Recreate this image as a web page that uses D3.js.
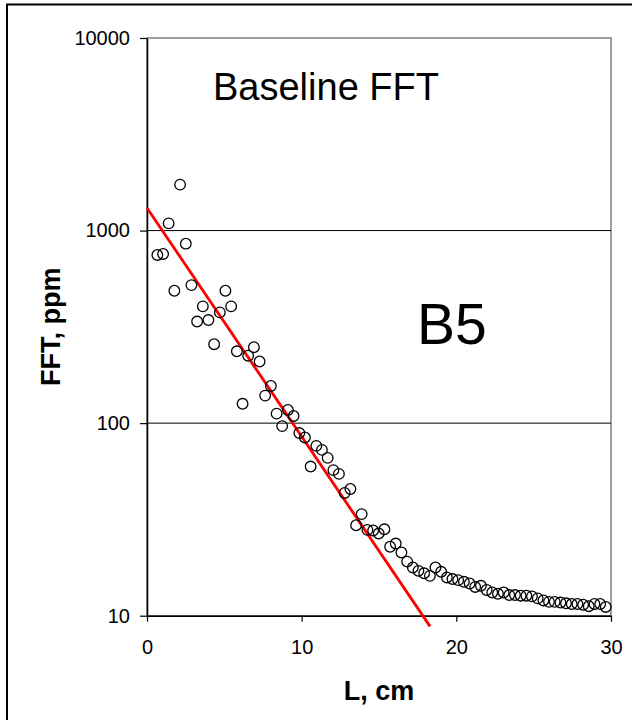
<!DOCTYPE html>
<html>
<head>
<meta charset="utf-8">
<script src="https://cdn.jsdelivr.net/npm/d3@7"></script>
<style>
  body { margin: 0; background: #fff; }
  svg { display: block; font-family: "Liberation Sans", Arial, sans-serif; }
</style>
</head>
<body>
<svg id="chart"></svg>
<script>
// measured data, L in cm, FFT in ppm
const L = [0.67, 1.04, 1.40, 1.77, 2.14, 2.51, 2.87, 3.24, 3.61, 3.97,
  4.34, 4.71, 5.07, 5.44, 5.81, 6.18, 6.54, 6.91, 7.28, 7.64,
  8.01, 8.38, 8.74, 9.11, 9.48, 9.85, 10.21, 10.58, 10.95, 11.31,
  11.68, 12.05, 12.41, 12.78, 13.15, 13.52, 13.88, 14.25, 14.62, 14.98,
  15.35, 15.72, 16.08, 16.45, 16.82, 17.19, 17.55, 17.92, 18.29, 18.65,
  19.02, 19.39, 19.75, 20.12, 20.49, 20.86, 21.22, 21.59, 21.96, 22.32,
  22.69, 23.06, 23.42, 23.79, 24.16, 24.53, 24.89, 25.26, 25.63, 25.99,
  26.36, 26.73, 27.09, 27.46, 27.83, 28.20, 28.56, 28.93, 29.30, 29.66];
const fft = [747, 756, 1090, 487, 1732, 855, 521, 337, 404, 343,
  257, 376, 487, 404, 236, 126, 224, 248, 209, 139,
  156, 112, 96.5, 117, 109, 88.8, 84.2, 59.5, 76.2, 72.6,
  66.0, 57.0, 54.5, 43.4, 45.5, 29.5, 33.7, 27.9, 27.7, 26.7,
  28.1, 22.8, 23.7, 21.3, 19.1, 17.8, 17.1, 16.6, 16.1, 17.8,
  16.9, 15.8, 15.5, 15.3, 15.0, 14.7, 14.1, 14.3, 13.6, 13.2,
  13.0, 13.2, 12.8, 12.8, 12.7, 12.7, 12.6, 12.3, 12.0, 11.8,
  11.8, 11.7, 11.6, 11.5, 11.5, 11.4, 11.2, 11.5, 11.5, 11.1];

// exponential trend line end points
const fitL = [0, 18.3];
const fitV = [1311, 8.8];

const xTicks = [0, 10, 20, 30];
const yTicks = [10, 100, 1000, 10000];

const width = 632;
const height = 720;

const svg = d3.select("#chart")
    .attr("width", width)
    .attr("height", height);

const x = d3.scaleLinear().domain([0, 30]).range([147, 611]);
const y = d3.scaleLog().domain([10, 10000]).range([615.7, 38]);

// outer frame (top + left)
svg.append("path")
    .attr("d", "M7,720 V4.5 H632")
    .attr("fill", "none")
    .attr("stroke", "#000")
    .attr("stroke-width", 2);

// plot area border
svg.append("rect")
    .attr("x", x(0))
    .attr("y", y(10000))
    .attr("width", x(30) - x(0))
    .attr("height", y(10) - y(10000))
    .attr("fill", "none")
    .attr("stroke", "#808080")
    .attr("stroke-width", 1.5);

// horizontal gridlines
svg.selectAll(".grid")
    .data([100, 1000])
    .enter().append("line")
    .attr("class", "grid")
    .attr("x1", x(0))
    .attr("x2", x(30))
    .attr("y1", d => y(d))
    .attr("y2", d => y(d))
    .attr("stroke", "#000")
    .attr("stroke-width", 1);

// axes
const yAxis = svg.append("g")
    .attr("transform", `translate(${x(0)},0)`)
    .call(d3.axisLeft(y).tickValues(yTicks).tickFormat(d3.format("d")).tickSize(7).tickSizeOuter(0).tickPadding(10));

const xAxis = svg.append("g")
    .attr("transform", `translate(0,${y(10)})`)
    .call(d3.axisBottom(x).tickValues(xTicks).tickSize(6).tickSizeOuter(0).tickPadding(18));

[yAxis, xAxis].forEach(g => {
    g.select(".domain").attr("stroke", "#000").attr("stroke-width", 1.5);
    g.selectAll(".tick line").attr("stroke", "#000").attr("stroke-width", 1.2);
    g.selectAll("text")
        .attr("fill", "#000")
        .style("font-size", "20px")
        .style("font-family", "'Liberation Sans', Arial, sans-serif");
});

// trend line
const line = d3.line()
    .x((d, i) => x(fitL[i]))
    .y(d => y(d));

svg.append("path")
    .datum(fitV)
    .attr("d", line)
    .attr("fill", "none")
    .attr("stroke", "#ff0000")
    .attr("stroke-width", 2.8);

// data points
svg.selectAll(".pt")
    .data(fft)
    .enter().append("circle")
    .attr("class", "pt")
    .attr("cx", (d, i) => x(L[i]))
    .attr("cy", d => y(d))
    .attr("r", 5.3)
    .attr("fill", "none")
    .attr("stroke", "#000")
    .attr("stroke-width", 1.3);

// labels
svg.append("text")
    .attr("x", 213)
    .attr("y", 100)
    .style("font-size", "38px")
    .text("Baseline FFT");

svg.append("text")
    .attr("x", 417)
    .attr("y", 344)
    .style("font-size", "57px")
    .text("B5");

svg.append("text")
    .attr("x", (x(0) + x(30)) / 2)
    .attr("y", 700)
    .attr("text-anchor", "middle")
    .style("font-size", "27px")
    .style("font-weight", "bold")
    .text("L, cm");

svg.append("text")
    .attr("transform", `translate(60,${(y(10) + y(10000)) / 2}) rotate(-90)`)
    .attr("text-anchor", "middle")
    .style("font-size", "27px")
    .style("font-weight", "bold")
    .text("FFT, ppm");
</script>
</body>
</html>
